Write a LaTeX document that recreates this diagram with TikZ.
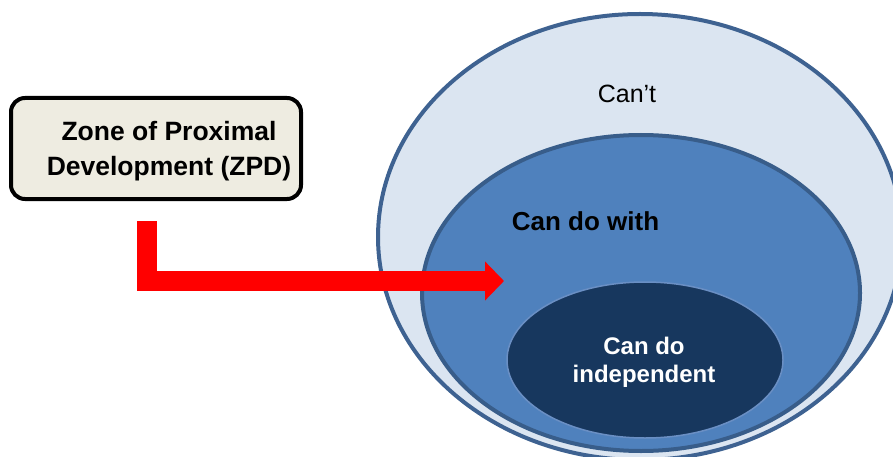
\documentclass[tikz,border=0pt]{standalone}
\usepackage{fontspec}
\setmainfont{Liberation Sans}
\usetikzlibrary{shapes.geometric,arrows.meta}
\definecolor{outerfill}{HTML}{DBE5F1}
\definecolor{outerline}{HTML}{3E6291}
\definecolor{midfill}{HTML}{4F81BD}
\definecolor{midline}{HTML}{385D8A}
\definecolor{innerfill}{HTML}{17375E}
\definecolor{innerline}{HTML}{6A8FC4}
\definecolor{boxfill}{HTML}{EEECE1}
\definecolor{arrowred}{HTML}{FF0000}
\tikzset{
  zone/.style={ellipse, inner sep=0pt},
  lbl/.style={inner sep=0pt, align=center},
  zpdbox/.style={rectangle, rounded corners=14pt, draw=black, line width=4pt, fill=boxfill, inner sep=0pt},
  bigarrow/.style={draw=arrowred, line width=19.5pt, line join=miter, line cap=butt, -{Triangle[length=19pt,width=38pt]}}
}
\begin{document}
\begin{tikzpicture}[x=1pt,y=-1pt]
\useasboundingbox (0,0) rectangle (893,457);
% ellipses
\node[zone, fill=outerfill, draw=outerline, line width=4pt, minimum width=524pt, minimum height=446pt] (outer) at (640,237) {};
\node[zone, fill=midfill, draw=midline, line width=4pt, minimum width=438pt, minimum height=316pt] (mid) at (641,293) {};
\node[zone, fill=innerfill, draw=innerline, line width=1.5pt, minimum width=276pt, minimum height=156pt] (inner) at (645,360) {};
% labels
\node[lbl, font=\fontsize{25}{30}\selectfont] (cant) at (627,94) {Can’t};
\node[lbl, font=\fontsize{26}{30}\selectfont\bfseries] (canwith) at (585.5,221) {Can do with};
\node[lbl, text=white, font=\fontsize{24}{28}\selectfont\bfseries] (canind) at (644,362) {Can do\\independent};
% ZPD box
\node[zpdbox, minimum width=290pt, minimum height=101pt] (zpd) at (156,148.5) {};
\node[lbl, font=\fontsize{26.5}{35}\selectfont\bfseries] (zpdtext) at (169,151) {Zone of Proximal\\Development (ZPD)};
% arrow
\coordinate (astart) at (147,221);
\coordinate (aend) at (504,281);
\draw[bigarrow] (astart) |- (aend);
\end{tikzpicture}
\end{document}
